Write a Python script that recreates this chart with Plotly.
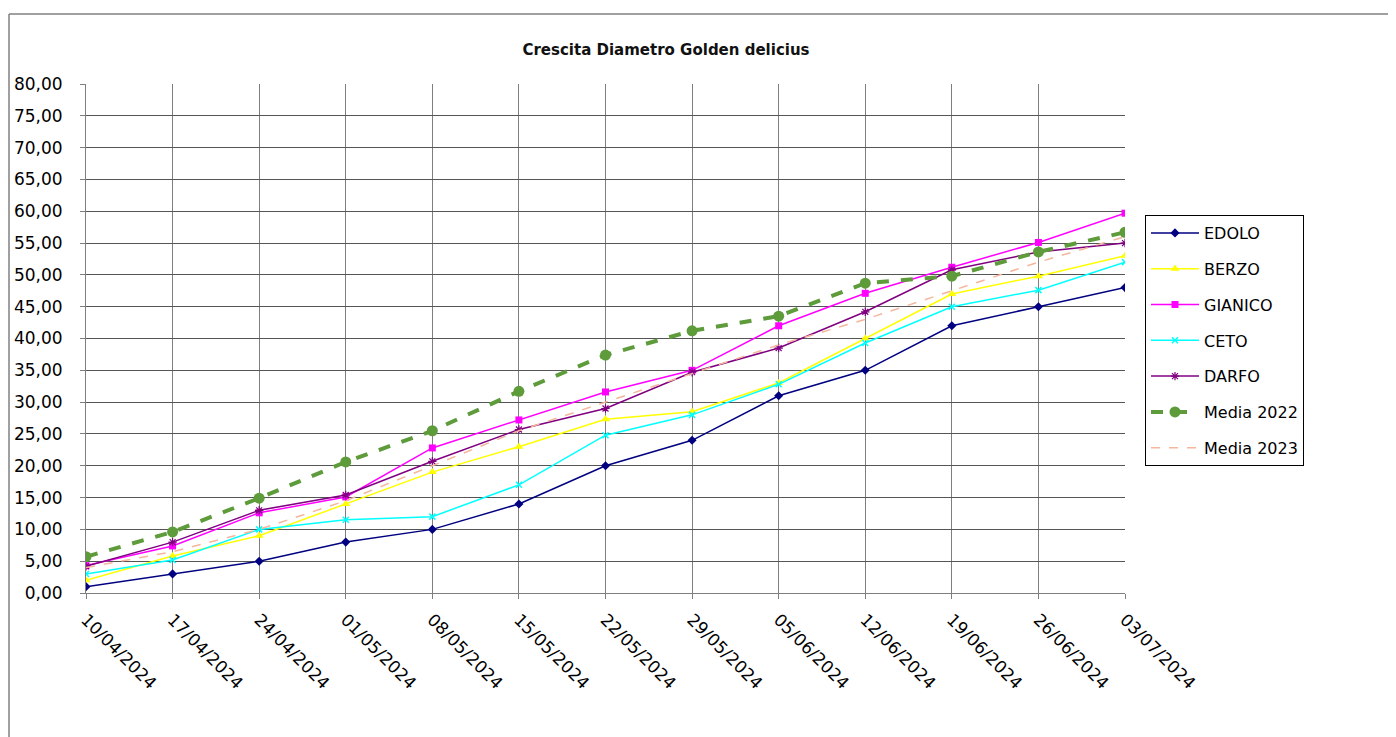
import plotly.graph_objects as go

dates = ["10/04/2024", "17/04/2024", "24/04/2024", "01/05/2024", "08/05/2024",
         "15/05/2024", "22/05/2024", "29/05/2024", "05/06/2024", "12/06/2024",
         "19/06/2024", "26/06/2024", "03/07/2024"]

edolo = [1.0, 3.0, 5.0, 8.0, 10.0, 14.0, 20.0, 24.0, 31.0, 35.0, 42.0, 45.0, 48.0]
berzo = [2.0, 5.8, 9.0, 14.0, 19.0, 23.0, 27.3, 28.5, 33.0, 40.0, 47.0, 49.8, 53.0]
gianico = [4.3, 7.4, 12.6, 15.1, 22.8, 27.2, 31.6, 35.0, 42.0, 47.1, 51.2, 55.1, 59.7]
ceto = [3.0, 5.2, 10.0, 11.5, 12.0, 17.0, 24.8, 28.0, 32.8, 39.3, 45.0, 47.6, 52.0]
darfo = [4.2, 8.0, 13.0, 15.4, 20.7, 25.7, 29.0, 34.7, 38.5, 44.2, 50.8, 53.6, 55.0]
media2022 = [5.7, 9.6, 14.9, 20.6, 25.5, 31.7, 37.4, 41.2, 43.5, 48.7, 49.8, 53.6, 56.7]
media2023 = [4.0, 6.5, 10.0, 14.5, 20.0, 25.5, 30.0, 34.5, 39.0, 43.0, 47.5, 52.0, 56.0]

series_names = ["EDOLO", "BERZO", "GIANICO", "CETO", "DARFO", "Media 2022", "Media 2023"]

FONT = "DejaVu Sans, Arial, sans-serif"

# page has an 8px body margin; figure is sized so its plot area lands where the reference has it
W, H = 1388, 729
PL, PR, PT, PB = 78, 1117, 76, 585  # plot area in figure pixels

fig = go.Figure()

def add(name, y, color, width=1.5, dash="solid", symbol=None, msize=7, mode="lines+markers", mline=None):
    marker = dict(color=color, size=msize)
    if symbol:
        marker["symbol"] = symbol
    if mline:
        marker["line"] = mline
    fig.add_trace(go.Scatter(
        x=dates, y=y, name=name, mode=mode,
        line=dict(color=color, width=width, dash=dash),
        marker=marker, legendgroup=name,
    ))

add(series_names[0], edolo, "#000080", symbol="diamond", msize=7)
add(series_names[1], berzo, "#FFFF00", symbol="triangle-up", msize=8)
add(series_names[2], gianico, "#FF00FF", symbol="square", msize=7)
add(series_names[3], ceto, "#00FFFF", symbol="x-thin", msize=6, mline=dict(color="#00FFFF", width=1.5))
add(series_names[4], darfo, "#800080", symbol="asterisk", msize=7, mline=dict(color="#800080", width=1.2))
add(series_names[5], media2022, "#5E9B3A", width=4, dash="dash", symbol="circle", msize=11)
add(series_names[6], media2023, "#F4B69C", width=1.5, dash="dash", mode="lines")

pw, ph = PR - PL, PB - PT

fig.update_layout(
    width=W, height=H,
    margin=dict(l=PL, r=W - PR, t=PT, b=H - PB, autoexpand=False),
    paper_bgcolor="white", plot_bgcolor="white",
    separators=",.",
    font=dict(family=FONT, color="black"),
    title=dict(text="<b>Crescita Diametro Golden delicius</b>",
               font=dict(family=FONT, size=15, color="#111111"),
               xref="paper", x=(658 - PL) / pw, xanchor="center",
               yref="container", y=1 - 42 / H, yanchor="middle"),
    showlegend=True,
    legend=dict(x=(1137 - PL) / pw, y=(PB - 207) / ph, xanchor="left", yanchor="top",
                bordercolor="black", borderwidth=1, bgcolor="white",
                font=dict(family=FONT, size=16, color="black"),
                tracegroupgap=12, itemwidth=48),
)

fig.update_xaxes(
    type="category", range=[0, 12], automargin=False,
    showgrid=True, gridcolor="#7f7f7f", gridwidth=1,
    showline=True, linecolor="#7f7f7f", linewidth=1,
    ticks="outside", ticklen=5, tickcolor="#7f7f7f",
    tickangle=45, ticklabelstandoff=4,
    tickfont=dict(family=FONT, size=17, color="black"),
    zeroline=False,
)
fig.update_yaxes(
    range=[0, 80], dtick=5, tickformat=".2f", automargin=False,
    showgrid=True, gridcolor="#555555", gridwidth=1,
    showline=True, linecolor="#7f7f7f", linewidth=1,
    ticks="outside", ticklen=5, tickcolor="#7f7f7f", ticklabelstandoff=14,
    tickfont=dict(family=FONT, size=17, color="black"),
    zeroline=False,
)

# outer chart-area frame (left and top edges)
fx = (1 - PL) / pw
fy = (PB - 6) / ph
fig.add_shape(type="line", xref="paper", yref="paper",
              x0=fx, x1=1.4, y0=fy, y1=fy,
              line=dict(color="#808080", width=1.5))
fig.add_shape(type="line", xref="paper", yref="paper",
              x0=fx, x1=fx, y0=-0.4, y1=fy,
              line=dict(color="#808080", width=1.5))

fig.write_html("out.html")
